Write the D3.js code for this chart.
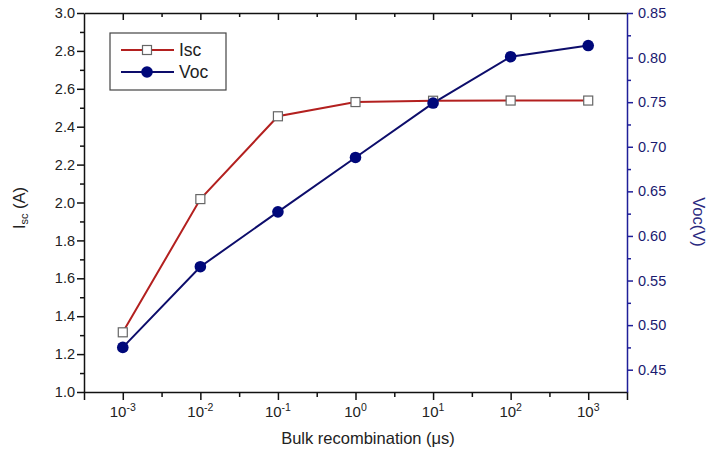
<!DOCTYPE html>
<html><head><meta charset="utf-8">
<script src="https://cdn.jsdelivr.net/npm/d3@7"></script>
<style>
body{margin:0;background:#fff;}
text{font-family:"Liberation Sans",Arial,sans-serif;}
</style></head>
<body>
<svg id="c" width="723" height="454"></svg>
<script>
const exponents = [-3, -2, -1, 0, 1, 2, 3];
const categories = exponents.map(e => Math.pow(10, e));
const iscValues = [1.315, 2.018, 2.455, 2.530, 2.537, 2.538, 2.538];
const vocValues = [0.475, 0.5655, 0.627, 0.688, 0.749, 0.801, 0.8135];
const leftTicks = [1.0, 1.2, 1.4, 1.6, 1.8, 2.0, 2.2, 2.4, 2.6, 2.8, 3.0];
const rightTicks = [0.45, 0.50, 0.55, 0.60, 0.65, 0.70, 0.75, 0.80, 0.85];

const svg = d3.select("#c");
const L = 84, R = 627, T = 13, B = 392;
const x = d3.scaleLog().domain([Math.pow(10, -3.5), Math.pow(10, 3.5)]).range([L, R]);
const yL = d3.scaleLinear().domain([1, 3]).range([B, T]);
const yR = d3.scaleLinear().domain([0.425, 0.85]).range([B, T]);

const red = "#b3201f", navy = "#0d0d6b", blueAxis = "#1f1f99";

function styleAxis(g, color) {
  g.select(".domain").attr("stroke", color).attr("stroke-width", 1.5);
  g.selectAll(".tick line").attr("stroke", color).attr("stroke-width", 1.5);
}

const xMinor = exponents.slice(0, 6).map(e => Math.pow(10, e + 0.5));
const yLMinor = d3.range(1.1, 3.0, 0.2);
const yRMinor = d3.range(0.475, 0.85, 0.05);

// bottom axis
const gB = svg.append("g").attr("transform", `translate(0,${B})`)
  .call(d3.axisBottom(x).tickValues(categories).tickSize(8).tickFormat(() => ""));
styleAxis(gB, "#111");
gB.selectAll(".tick text").remove();
const gBm = svg.append("g").attr("transform", `translate(0,${B})`)
  .call(d3.axisBottom(x).tickValues(xMinor).tickSize(5).tickFormat(() => "").tickSizeOuter(0));
styleAxis(gBm, "#111");
gBm.select(".domain").remove();
gBm.selectAll("text").remove();
const lbl = svg.append("g");
exponents.forEach((e, i) => {
  const t = lbl.append("text").attr("x", x(categories[i])).attr("y", 417)
    .attr("text-anchor", "middle").attr("font-size", 15).attr("fill", "#222");
  t.append("tspan").text("10");
  t.append("tspan").attr("dy", -6).attr("font-size", 10.5).text(String(e));
});

// top axis (mirror, inward ticks)
const gT = svg.append("g").attr("transform", `translate(0,${T})`)
  .call(d3.axisBottom(x).tickValues(categories).tickSize(7).tickFormat(() => "").tickSizeOuter(0));
styleAxis(gT, "#111");
gT.selectAll("text").remove();
const gTm = svg.append("g").attr("transform", `translate(0,${T})`)
  .call(d3.axisBottom(x).tickValues(xMinor).tickSize(4).tickFormat(() => "").tickSizeOuter(0));
styleAxis(gTm, "#111");
gTm.select(".domain").remove();
gTm.selectAll("text").remove();

// left axis
const gL = svg.append("g").attr("transform", `translate(${L},0)`)
  .call(d3.axisLeft(yL).tickValues(leftTicks).tickSize(7).tickSizeOuter(0).tickFormat(d3.format(".1f")));
styleAxis(gL, "#111");
gL.selectAll("text").attr("font-size", 14.5).attr("fill", "#222").attr("x", -9);
const gLm = svg.append("g").attr("transform", `translate(${L},0)`)
  .call(d3.axisLeft(yL).tickValues(yLMinor).tickSize(4).tickSizeOuter(0).tickFormat(() => ""));
styleAxis(gLm, "#111");
gLm.select(".domain").remove();

// right axis
const gR = svg.append("g").attr("transform", `translate(${R},0)`)
  .call(d3.axisRight(yR).tickValues(rightTicks).tickSize(6).tickSizeOuter(0).tickFormat(d3.format(".2f")));
styleAxis(gR, blueAxis);
gR.selectAll("text").attr("font-size", 14.5).attr("fill", "#1a1a70").attr("x", 11);
const gRm = svg.append("g").attr("transform", `translate(${R},0)`)
  .call(d3.axisRight(yR).tickValues(yRMinor).tickSize(4).tickSizeOuter(0).tickFormat(() => ""));
styleAxis(gRm, blueAxis);
gRm.select(".domain").remove();

// axis titles
const xt = svg.append("text").attr("x", 368).attr("y", 444).attr("text-anchor", "middle")
  .attr("font-size", 16.5).attr("fill", "#222");
xt.append("tspan").text("Bulk recombination ");
xt.append("tspan").text("(μs)");

const ytl = svg.append("text").attr("transform", "translate(25,208) rotate(-90)")
  .attr("text-anchor", "middle").attr("font-size", 16.5).attr("fill", "#222");
ytl.append("tspan").text("I");
ytl.append("tspan").attr("font-size", 11).attr("dy", 3).text("sc");
ytl.append("tspan").attr("dy", -3).text(" (A)");

svg.append("text").attr("transform", "translate(693,222) rotate(90)")
  .attr("text-anchor", "middle").attr("font-size", 16.5).attr("fill", "#2a2a80").text("Voc(V)");

// series
const lineIsc = d3.line().x((d, i) => x(categories[i])).y(d => yL(d));
const lineVoc = d3.line().x((d, i) => x(categories[i])).y(d => yR(d));
svg.append("path").datum(iscValues).attr("d", lineIsc).attr("fill", "none")
  .attr("stroke", red).attr("stroke-width", 2);
svg.append("path").datum(vocValues).attr("d", lineVoc).attr("fill", "none")
  .attr("stroke", navy).attr("stroke-width", 2);
svg.append("g").selectAll("rect").data(iscValues).join("rect")
  .attr("x", (d, i) => x(categories[i]) - 4.5).attr("y", d => yL(d) - 4.5)
  .attr("width", 9).attr("height", 9).attr("fill", "#fff").attr("stroke", "#666").attr("stroke-width", 1.2);
svg.append("g").selectAll("circle").data(vocValues).join("circle")
  .attr("cx", (d, i) => x(categories[i])).attr("cy", d => yR(d)).attr("r", 5.8)
  .attr("fill", "#00087a");

// legend
const lg = svg.append("g");
lg.append("rect").attr("x", 110).attr("y", 33).attr("width", 116).attr("height", 57)
  .attr("fill", "#fff").attr("stroke", "#444").attr("stroke-width", 1.2);
const legendItems = [{name: "Isc", color: red, y: 50, type: "sq"}, {name: "Voc", color: navy, y: 72, type: "ci"}];
legendItems.forEach(it => {
  lg.append("line").attr("x1", 121).attr("x2", 174).attr("y1", it.y).attr("y2", it.y)
    .attr("stroke", it.color).attr("stroke-width", 2);
  if (it.type === "sq") {
    lg.append("rect").attr("x", 147 - 4.5).attr("y", it.y - 4.5).attr("width", 9).attr("height", 9)
      .attr("fill", "#fff").attr("stroke", "#666").attr("stroke-width", 1.2);
  } else {
    lg.append("circle").attr("cx", 147).attr("cy", it.y).attr("r", 5.8).attr("fill", "#00087a");
  }
  lg.append("text").attr("x", 179).attr("y", it.y + 6).attr("font-size", 17.5).attr("fill", "#222").text(it.name);
});
</script>
</body></html>
